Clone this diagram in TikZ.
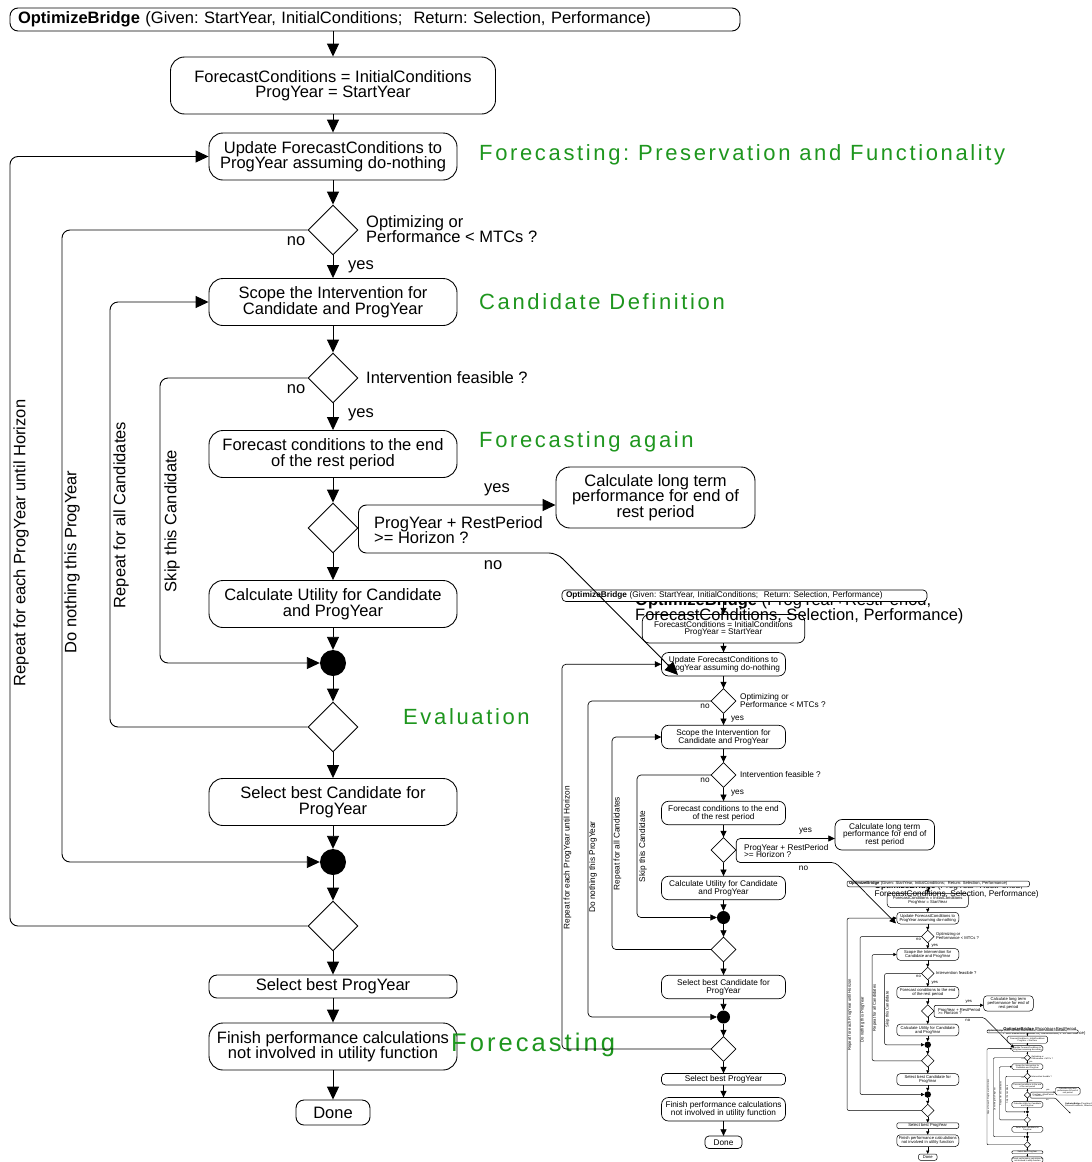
\documentclass[tikz,border=0pt]{standalone}
\usepackage{fontspec}
\setmainfont{Liberation Sans}
\newfontfamily\grfont{Liberation Sans}[LetterSpace=12]
\usetikzlibrary{arrows.meta,shapes.geometric}
\definecolor{grn}{RGB}{30,150,30}

\tikzset{
  base/.style={transform shape, font=\fontsize{16.5}{15.5}\selectfont, inner sep=0pt},
  box/.style={base, draw, fill=white, align=center, minimum width=248pt, minimum height=47pt, rb, lw},
  dia/.style={transform shape, draw, fill=white, diamond, minimum width=50pt, minimum height=50pt, inner sep=0pt, lw},
  dot/.style={transform shape, circle, fill=black, minimum size=26pt, inner sep=0pt},
  lbl/.style={base, align=left},
  loopl/.style={base, rotate=90},
  glbl/.style={font=\grfont\fontsize{22}{24}\selectfont, text=grn, anchor=west, inner sep=0pt},
}

% level dependent settings: arrow scale, big radius, small radius, line width
\newcommand\lv[4]{%
  \tikzset{arr/.style={draw, line width=#4, -{Triangle[length=13pt,width=12pt,scale=#1]}},
    rb/.style={rounded corners=#2}, rs/.style={rounded corners=#3}, lw/.style={line width=#4}}}

\newcommand\flowbody[1]{%
  \node[box, minimum width=325pt, minimum height=57pt] (#1-init) at (333,85.5) {ForecastConditions = InitialConditions\\ProgYear = StartYear};
  \node[box] (#1-upd) at (333,156.5) {Update ForecastConditions to\\ProgYear assuming do-nothing};
  \node[dia] (#1-d1) at (333,230) {};
  \node[box] (#1-scope) at (333,302) {Scope the Intervention for\\Candidate and ProgYear};
  \node[dia] (#1-d2) at (333,378) {};
  \node[box] (#1-fc) at (333,454) {Forecast conditions to the end\\of the rest period};
  \node[dia] (#1-d3) at (333,528) {};
  \node[box, minimum width=199pt, minimum height=61pt] (#1-lt) at (655.5,497.5) {Calculate long term\\performance for end of\\rest period};
  \node[box] (#1-cu) at (333,604) {Calculate Utility for Candidate\\and ProgYear};
  \node[dot] (#1-j1) at (333,663) {};
  \node[dia] (#1-d4) at (333,727) {};
  \node[box] (#1-sbc) at (333,802) {Select best Candidate for\\ProgYear};
  \node[dot] (#1-j2) at (333,862) {};
  \node[dia] (#1-d5) at (333,926) {};
  \node[box, minimum height=23pt, rs] (#1-sbp) at (333,986.5) {Select best ProgYear};
  \node[box] (#1-fin) at (333,1046.5) {Finish performance calculations\\not involved in utility function};
  \node[box, minimum width=74pt, minimum height=25pt, rs] (#1-done) at (333,1112.5) {Done};
  % texts next to the decisions
  \node[lbl, anchor=west] (#1-q1) at (366,229) {Optimizing or\\Performance < MTCs ?};
  \node[lbl] (#1-n1) at (296,241) {no};
  \node[lbl] (#1-y1) at (361,267) {yes};
  \node[lbl, anchor=west] (#1-q2) at (366,378) {Intervention feasible ?};
  \node[lbl] (#1-n2) at (296,389) {no};
  \node[lbl] (#1-y2) at (361,415) {yes};
  \node[lbl, anchor=west] (#1-q3) at (374,530) {ProgYear + RestPeriod\\>= Horizon ?};
  \node[lbl] (#1-y3) at (497,490) {yes};
  \node[lbl] (#1-n3) at (493,565) {no};
  % main flow
  \draw[arr] (#1-init) -- (#1-upd);
  \draw[arr] (#1-upd) -- (#1-d1);
  \draw[arr] (#1-d1) -- (#1-scope);
  \draw[arr] (#1-scope) -- (#1-d2);
  \draw[arr] (#1-d2) -- (#1-fc);
  \draw[arr] (#1-fc) -- (#1-d3);
  \draw[arr] (#1-d3) -- (#1-cu);
  \draw[arr] (#1-cu) -- (#1-j1);
  \draw[arr] (#1-j1) -- (#1-d4);
  \draw[arr] (#1-d4) -- (#1-sbc);
  \draw[arr] (#1-sbc) -- (#1-j2);
  \draw[arr] (#1-j2) -- (#1-d5);
  \draw[arr] (#1-d5) -- (#1-sbp);
  \draw[arr] (#1-sbp) -- (#1-fin);
  \draw[arr] (#1-fin) -- (#1-done);
  % loops
  \coordinate (#1-x1) at (10,0);
  \coordinate (#1-x2) at (62,0);
  \coordinate (#1-x3) at (110,0);
  \coordinate (#1-x4) at (160,0);
  \draw[arr, rs] (#1-d5.west) -- (#1-d5.west -| #1-x1) -- (#1-x1 |- #1-upd.west) -- (#1-upd.west);
  \draw[arr, rs] (#1-d1.west) -- (#1-d1.west -| #1-x2) -- (#1-x2 |- #1-j2.west) -- (#1-j2.west);
  \draw[arr, rs] (#1-d4.west) -- (#1-d4.west -| #1-x3) -- (#1-x3 |- #1-scope.west) -- (#1-scope.west);
  \draw[arr, rs] (#1-d2.west) -- (#1-d2.west -| #1-x4) -- (#1-x4 |- #1-j1.west) -- (#1-j1.west);
  \node[loopl] (#1-r1) at (21,543) {Repeat for each ProgYear until Horizon};
  \node[loopl] (#1-r2) at (72,562) {Do nothing this ProgYear};
  \node[loopl] (#1-r3) at (121,515) {Repeat for all Candidates};
  \node[loopl] (#1-r4) at (172,521) {Skip this Candidate};
  % yes branch of the horizon test
  \coordinate (#1-ya) at (400,505);
  \draw[arr, rs] (#1-d3.east) |- (#1-lt.west |- #1-ya);
}

\newcommand\flowtitle[1]{%
  \node[box, minimum width=730pt, minimum height=23pt, rs, text width=714pt, align=left] (#1-title) at (375,19.5)
    {\textbf{OptimizeBridge} (Given: StartYear, InitialConditions;\ \ Return: Selection, Performance)};
  \draw[arr] (#1-title.south -| #1-init) -- (#1-init);
}

\newcommand\flowcall[1]{%
  \node[lbl, anchor=north west] (#1-call) at (635,593)
    {\textbf{OptimizeBridge} (ProgYear+RestPeriod,\\ForecastConditions, Selection, Performance)};
}

\newcommand\flowdiag[1]{%
  \coordinate (#1-nob) at (557,553);
  \coordinate (#1-callin) at (678,675);
  \draw[arr, rs] (#1-d3.east) |- (#1-nob) -- (#1-callin);
}

\begin{document}
\frenchspacing
\begin{tikzpicture}[x=1pt,y=-1pt]
\useasboundingbox (0,0) rectangle (1092,1162);
\fill[white] (0,0) rectangle (1092,1162);
\lv{1}{14pt}{8pt}{0.9pt}
\flowbody{A}
\flowtitle{A}
\node[glbl] (g1) at (479,155) {Forecasting: Preservation and Functionality};
\node[glbl] (g2) at (479,302) {Candidate Definition};
\node[glbl] (g3) at (479,442) {Forecasting again};
\node[glbl] (g4) at (403,717) {Evaluation};
\node[glbl, font=\grfont\fontsize{25.5}{27}\selectfont] (g5) at (451,1045) {Forecasting};
\begin{scope}[shift={(557,586)},scale=0.5]
  \lv{0.5}{7pt}{4pt}{0.7pt}
  \flowbody{B}
  \begin{scope}[shift={(575,586)},scale=0.5]
    \lv{0.25}{3.5pt}{2pt}{0.5pt}
    \flowbody{C}
    \begin{scope}[shift={(565,600)},scale=0.5]
      \lv{0.125}{1.75pt}{1pt}{0.4pt}
      \flowbody{D}
      \flowcall{D}
      \flowdiag{D}
    \end{scope}
    \flowcall{C}
    \begin{scope}[shift={(565,600)},scale=0.5]
      \lv{0.125}{1.75pt}{1pt}{0.4pt}
      \flowtitle{D}
    \end{scope}
    \flowdiag{C}
  \end{scope}
  \flowcall{B}
  \begin{scope}[shift={(575,586)},scale=0.5]
    \lv{0.25}{3.5pt}{2pt}{0.5pt}
    \flowtitle{C}
  \end{scope}
  \flowdiag{B}
\end{scope}
\flowcall{A}
\begin{scope}[shift={(557,586)},scale=0.5]
  \lv{0.5}{7pt}{4pt}{0.7pt}
  \flowtitle{B}
\end{scope}
\flowdiag{A}
\end{tikzpicture}
\end{document}
